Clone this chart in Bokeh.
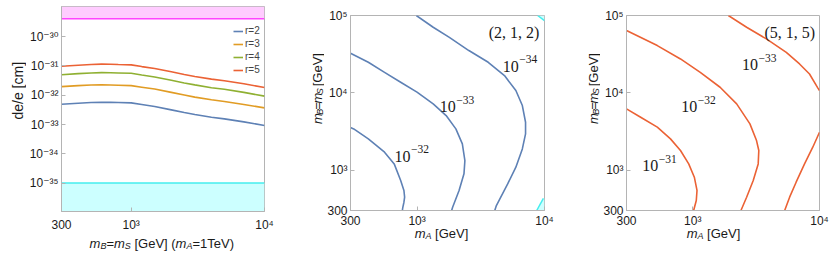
import math
from bokeh.plotting import figure
from bokeh.models import FixedTicker, Label, Legend, LegendItem, Range1d
from bokeh.layouts import row, column
from bokeh.embed import file_html
from bokeh.resources import INLINE
from bokeh.core.properties import value

# ---------------- data ----------------
# Panel 1: de/e vs m_B = m_S  (m_A = 1 TeV)
mB1 = [300, 400, 500, 600, 700, 800, 1000, 1200, 1500, 2000, 2500, 3000, 4000, 5000, 7000, 10000]
de_r2 = [4.93e-33, 5.33e-33, 5.62e-33, 5.77e-33, 5.70e-33, 5.62e-33, 5.48e-33, 4.81e-33,
         4.11e-33, 3.16e-33, 2.57e-33, 2.19e-33, 1.78e-33, 1.56e-33, 1.23e-33, 9.25e-34]
de_r3 = [1.97e-32, 2.12e-32, 2.22e-32, 2.25e-32, 2.23e-32, 2.20e-32, 2.12e-32, 1.88e-32,
         1.62e-32, 1.25e-32, 1.02e-32, 8.6e-33, 7.0e-33, 6.1e-33, 4.8e-33, 3.7e-33]
de_r4 = [5.0e-32, 5.45e-32, 5.75e-32, 5.9e-32, 5.85e-32, 5.75e-32, 5.6e-32, 4.9e-32,
         4.2e-32, 3.25e-32, 2.62e-32, 2.25e-32, 1.8e-32, 1.6e-32, 1.25e-32, 9.3e-33]
de_r5 = [9.8e-32, 1.06e-31, 1.12e-31, 1.15e-31, 1.14e-31, 1.12e-31, 1.09e-31, 9.5e-32,
         8.2e-32, 6.3e-32, 5.1e-32, 4.35e-32, 3.55e-32, 3.1e-32, 2.45e-32, 1.83e-32]
r_labels = ["r=2", "r=3", "r=4", "r=5"]
upper_limit = 4.1e-30     # magenta excluded band (above)
lower_limit = 1.0e-35     # cyan band (below)

# Panel 2: contours (2,1,2)
c32_mA = [300, 318, 414, 555, 661, 743, 788, 798, 788, 771, 766]
c32_mB = [3550, 3412, 2535, 1703, 1202, 733, 545, 446, 384, 324, 300]
c33_mA = [300, 414, 555, 743, 998, 1337, 1690, 2015, 2265, 2372, 2333, 2135, 1900, 1867]
c33_mB = [32400, 24800, 18400, 13700, 10200, 7180, 5070, 3412, 2183, 1330, 894, 545, 331, 300]
c34_mA = [986, 1337, 1791, 2548, 3617, 4850, 5960, 6700, 7100, 7100, 6700, 5960, 5140, 4190, 4070]
c34_mB = [100000, 70500, 52200, 35200, 24800, 16700, 10700, 6840, 4160, 2940, 1880, 1090, 663, 348, 300]
cyan_top_mA = [8830, 10000, 10000]
cyan_top_mB = [100000, 100000, 86000]
cyan_bot_mA = [8690, 9800, 10000, 10000]
cyan_bot_mB = [300, 430, 430, 300]

# Panel 3: contours (5,1,5)
d31_mA = [300, 388, 525, 667, 800, 929, 1029, 1080, 1066, 1016]
d31_mB = [6200, 4830, 3590, 2535, 1790, 1202, 809, 545, 404, 300]
d32_mA = [300, 525, 800, 1146, 1643, 2220, 2825, 3185, 3320, 3283, 3000, 2660, 2400]
d32_mB = [63800, 40800, 27400, 18400, 11800, 7180, 3960, 2410, 1790, 1202, 733, 446, 300]
d33a_mA = [1910, 2660, 3810, 5470, 6960, 8340, 9690, 10000]
d33a_mB = [100000, 70500, 49800, 33400, 23600, 17500, 11600, 10700]
d33b_mA = [10000, 8850, 7620, 6540, 5810, 5310]
d33b_mB = [3090, 1977, 1202, 697, 446, 300]

x_ticks = [300, 1000, 10000]
x_tick_labels = ["300", "10³", "10⁴"]
y1_ticks = [1e-35, 1e-34, 1e-33, 1e-32, 1e-31, 1e-30]
y1_tick_labels = ["10⁻³⁵", "10⁻³⁴", "10⁻³³", "10⁻³²", "10⁻³¹", "10⁻³⁰"]
y2_ticks = [300, 1000, 10000, 100000]
y2_tick_labels = ["300", "10³", "10⁴", "10⁵"]

# ---------------- style ----------------
BLUE, ORANGE, GREEN, RED = "#5E81B5", "#E19C24", "#8FB032", "#EB6235"
FRAME = "#b4b4b4"
SANS = "Liberation Sans, DejaVu Sans"
SERIF = "Liberation Serif"
TXT = "#1a1a1a"

AW = {'m': 833, 'B': 667, 'S': 667, 'A': 667, '=': 584, ' ': 278, '[': 278, ']': 278,
      'G': 778, 'e': 556, 'V': 667, '(': 333, ')': 333, '1': 556, 'T': 611}


def tw(s, size):
    return sum(AW.get(c, 556) for c in s) * size / 1000.0


def text_fig(width, height, margin=None):
    """A bare transparent canvas (no axes) whose data units are canvas pixels, y downwards."""
    f = figure(width=width, height=height, x_range=Range1d(0, width), y_range=Range1d(height, 0),
               output_backend="svg", toolbar_location=None, title=None,
               x_axis_location=None, y_axis_location=None, margin=margin,
               min_border_left=0, min_border_right=0, min_border_top=0, min_border_bottom=0)
    f.outline_line_color = None
    f.grid.visible = False
    f.background_fill_color = None
    f.border_fill_color = None
    return f


def rich(f, pieces, x, y, angle=0.0):
    """pieces: (text, size, italic, drop); (x, y) = centre of the baseline (canvas px)."""
    total = sum(tw(t, s) for t, s, _, _ in pieces)
    ca, sa = math.cos(angle), math.sin(angle)
    pos = -total / 2
    for t, s, it, d in pieces:
        lead = len(t) - len(t.lstrip(" "))
        body = t.strip(" ")
        p0 = pos + tw(" " * lead, s)
        px = x + ca * p0 + sa * d
        py = y - sa * p0 + ca * d
        f.text(x=[px], y=[py], text=[body], text_font=value(SANS), text_font_size=f"{s}px",
               text_font_style="italic" if it else "normal", text_color=TXT,
               angle=angle, text_align="left", text_baseline="alphabetic")
        pos += tw(t, s)


def mB_mS(fs=13, sub=9, drop=2.5):
    return [("m", fs, True, 0), ("B", sub, True, drop), ("=", fs, False, 0),
            ("m", fs, True, 0), ("S", sub, True, drop)]


def make_fig(width, height, ml, mr, mt, mb, xr, yr):
    p = figure(width=width, height=height, x_axis_type="log", y_axis_type="log",
               x_range=Range1d(*xr), y_range=Range1d(*yr),
               output_backend="svg", toolbar_location=None, title=None,
               min_border_left=ml, min_border_right=mr,
               min_border_top=mt, min_border_bottom=mb)
    p.grid.visible = False
    p.outline_line_color = FRAME
    p.background_fill_color = "white"
    p.border_fill_color = "white"
    for ax in (p.xaxis[0], p.yaxis[0]):
        ax.axis_line_color = FRAME
        ax.major_tick_line_color = FRAME
        ax.major_tick_in = 4
        ax.major_tick_out = 0
        ax.minor_tick_line_color = None
        ax.major_label_text_font = SANS
        ax.major_label_text_font_size = "12px"
        ax.major_label_text_color = TXT
        ax.major_label_standoff = 3
    p.xaxis.major_label_standoff = 3
    p.xaxis.ticker = FixedTicker(ticks=x_ticks)
    p.xaxis.major_label_overrides = dict(zip(x_ticks, x_tick_labels))
    return p


def contour_label(p, x, y, base, sup):
    p.add_layout(Label(x=x, y=y, text=base, text_font=SERIF, text_font_size="16px",
                       text_color=TXT, text_align="left", text_baseline="alphabetic"))
    p.add_layout(Label(x=x, y=y, x_offset=16.5, y_offset=7, text=sup, text_font=SERIF,
                       text_font_size="11.5px", text_color=TXT, text_align="left",
                       text_baseline="alphabetic"))


# ---------------- panel 1 ----------------
H1 = 236
p1 = make_fig(264, H1, 34, 26, 6, H1 - 211, (300, 10000), (1.07e-36, 1.07e-29))
p1.xaxis.major_label_standoff = 6
p1.yaxis.ticker = FixedTicker(ticks=y1_ticks)
p1.yaxis.major_label_overrides = dict(zip(y1_ticks, y1_tick_labels))

p1.quad(left=[300], right=[10000], bottom=[upper_limit], top=[1.07e-29],
        fill_color="#ffccff", line_color=None)
p1.line([300, 10000], [upper_limit, upper_limit], line_color="#ff44ff", line_width=1.5)
p1.quad(left=[300], right=[10000], bottom=[1.07e-36], top=[lower_limit],
        fill_color="#ccffff", line_color=None)
p1.line([300, 10000], [lower_limit, lower_limit], line_color="#44eeee", line_width=1.5)

rs = []
for ys, col in zip([de_r2, de_r3, de_r4, de_r5], [BLUE, ORANGE, GREEN, RED]):
    rs.append(p1.line(mB1, ys, line_color=col, line_width=1.6))

legend = Legend(items=[LegendItem(label=l, renderers=[r]) for l, r in zip(r_labels, rs)],
                location=(172, 136), padding=0, margin=0, spacing=2,
                glyph_width=10, glyph_height=10, label_height=10,
                label_standoff=2, label_text_font=SANS, label_text_font_size="10px",
                label_text_color="#444444", border_line_alpha=0,
                background_fill_alpha=0)
p1.add_layout(legend)

ylab1 = text_fig(26, H1)
ylab1.text(x=[17], y=[97], text=["de/e [cm]"], text_font=value(SANS), text_font_size="14px",
           text_color=TXT, angle=math.pi / 2, text_align="center", text_baseline="middle")
xlab1 = text_fig(290, 30, margin=(-12, 0, 0, 0))
rich(xlab1, [("m", 13, True, 0), ("B", 9, True, 2.5), ("=", 13, False, 0),
             ("m", 13, True, 0), ("S", 9, True, 2.5), (" [GeV] (", 13, False, 0),
             ("m", 13, True, 0), ("A", 9, True, 2.5), ("=1TeV)", 13, False, 0)],
     162, 19)

# ---------------- panel 2 ----------------
H2 = 232
p2 = make_fig(248, H2, 23, 28, 15, H2 - 210, (300, 10000), (300, 100000))
p2.yaxis.ticker = FixedTicker(ticks=y2_ticks)
p2.yaxis.major_label_overrides = dict(zip(y2_ticks, y2_tick_labels))

p2.patch(cyan_top_mA, cyan_top_mB, fill_color="#ccffff", line_color=None)
p2.line([cyan_top_mA[0], cyan_top_mA[2]], [cyan_top_mB[0], cyan_top_mB[2]],
        line_color="#44eeee", line_width=1.5)
p2.patch(cyan_bot_mA, cyan_bot_mB, fill_color="#ccffff", line_color=None)
p2.line(cyan_bot_mA[:2], cyan_bot_mB[:2], line_color="#44eeee", line_width=1.5)

for xs, ys in [(c32_mA, c32_mB), (c33_mA, c33_mB), (c34_mA, c34_mB)]:
    p2.line(xs, ys, line_color=BLUE, line_width=1.6)

contour_label(p2, 665, 1500, "10", "−32")
contour_label(p2, 1507, 6600, "10", "−33")
contour_label(p2, 4710, 22200, "10", "−34")
p2.add_layout(Label(x=3650, y=60300, text="(2, 1, 2)", text_font=SERIF,
                    text_font_size="16px", text_color=TXT, text_align="left",
                    text_baseline="alphabetic"))

ylab2 = text_fig(34, H2)
rich(ylab2, mB_mS() + [(" [GeV]", 13, False, 0)], 27, 90, angle=math.pi / 2)
xlab2 = text_fig(282, 30, margin=(-9, 0, 0, 0))
rich(xlab2, [("m", 13, True, 0), ("A", 9, True, 2.5), (" [GeV]", 13, False, 0)], 151, 10)

# ---------------- panel 3 ----------------
p3 = make_fig(230, H2, 24, 11, 15, H2 - 210, (300, 10000), (300, 100000))
p3.yaxis.ticker = FixedTicker(ticks=y2_ticks)
p3.yaxis.major_label_overrides = dict(zip(y2_ticks, y2_tick_labels))

for xs, ys in [(d31_mA, d31_mB), (d32_mA, d32_mB), (d33a_mA, d33a_mB), (d33b_mA, d33b_mB)]:
    p3.line(xs, ys, line_color=RED, line_width=1.6)

contour_label(p3, 400, 1130, "10", "−31")
contour_label(p3, 811, 6600, "10", "−32")
contour_label(p3, 2445, 22900, "10", "−33")
p3.add_layout(Label(x=3680, y=60300, text="(5, 1, 5)", text_font=SERIF,
                    text_font_size="16px", text_color=TXT, text_align="left",
                    text_baseline="alphabetic"))

ylab3 = text_fig(28, H2)
rich(ylab3, mB_mS() + [(" [GeV]", 13, False, 0)], 21, 90, angle=math.pi / 2)
xlab3 = text_fig(258, 30, margin=(-9, 0, 0, 0))
rich(xlab3, [("m", 13, True, 0), ("A", 9, True, 2.5), (" [GeV]", 13, False, 0)], 141, 10)

layout = row(column(row(ylab1, p1), xlab1),
             column(row(ylab2, p2), xlab2),
             column(row(ylab3, p3), xlab3))
open("out.html", "w").write(file_html(layout, INLINE))
